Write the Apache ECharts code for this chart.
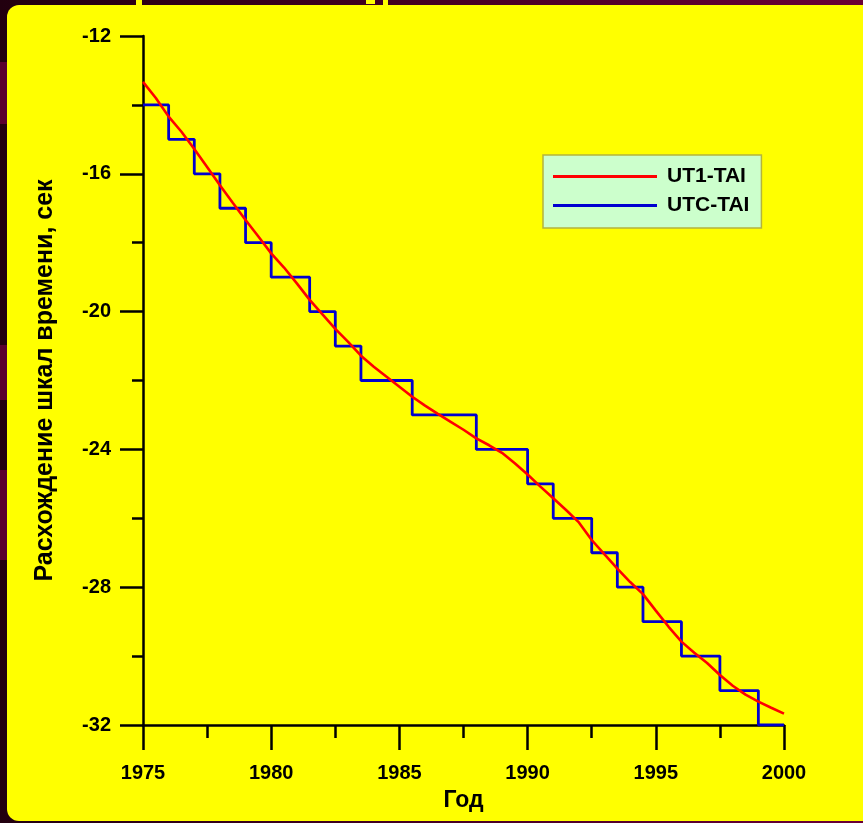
<!DOCTYPE html>
<html>
<head>
<meta charset="utf-8">
<script src="https://cdn.jsdelivr.net/npm/echarts@6/dist/echarts.min.js"></script>
<style>
  html, body { margin: 0; padding: 0; background: #2a0014; }
  #chart { width: 863px; height: 823px; }
</style>
</head>
<body>
<div id="chart"></div>
<script>
// UT1-TAI, seconds, sampled every half year
const ut1Years = [
  1975.0, 1975.5, 1976.0, 1976.5, 1977.0, 1977.5, 1978.0, 1978.5, 1979.0, 1979.5,
  1980.0, 1980.5, 1981.0, 1981.5, 1982.0, 1982.5, 1983.0, 1983.5, 1984.0, 1984.5,
  1985.0, 1985.5, 1986.0, 1986.5, 1987.0, 1987.5, 1988.0, 1988.5, 1989.0, 1989.5,
  1990.0, 1990.5, 1991.0, 1991.5, 1992.0, 1992.5, 1993.0, 1993.5, 1994.0, 1994.5,
  1995.0, 1995.5, 1996.0, 1996.5, 1997.0, 1997.5, 1998.0, 1998.5, 1999.0, 1999.5,
  2000.0
];
const ut1Values = [
  -13.33, -13.80, -14.34, -14.78, -15.28, -15.80, -16.33, -16.84, -17.34, -17.82,
  -18.31, -18.72, -19.18, -19.66, -20.08, -20.50, -20.88, -21.28, -21.60, -21.89,
  -22.18, -22.47, -22.73, -22.97, -23.20, -23.43, -23.68, -23.88, -24.10, -24.40,
  -24.73, -25.08, -25.42, -25.76, -26.12, -26.63, -27.05, -27.46, -27.85, -28.20,
  -28.68, -29.15, -29.58, -29.90, -30.20, -30.55, -30.86, -31.12, -31.32, -31.50,
  -31.67
];

// UTC-TAI: epochs of leap seconds and the offset that holds from each epoch
const utcYears = [
  1975, 1976, 1977, 1978, 1979, 1980, 1981.5, 1982.5, 1983.5, 1985.5,
  1988, 1990, 1991, 1992.5, 1993.5, 1994.5, 1996, 1997.5, 1999, 2000
];
const utcValues = [
  -14, -15, -16, -17, -18, -19, -20, -21, -22, -23,
  -24, -25, -26, -27, -28, -29, -30, -31, -32, -32
];

const seriesNames = ['UT1-TAI', 'UTC-TAI'];
const xTicks = { min: 1975, max: 2000, step: 5 };
const yTicks = { min: -32, max: -12, step: 4 };
const xTitle = 'Год';
const yTitle = 'Расхождение шкал времени, сек';

const FONT = '"Liberation Sans", Arial, sans-serif';

const chart = echarts.init(document.getElementById('chart'), null, { renderer: 'canvas' });

chart.setOption({
  backgroundColor: {
    type: 'linear', x: 0, y: 0, x2: 1, y2: 0,
    colorStops: [
      { offset: 0, color: '#22000f' },
      { offset: 1, color: '#6a0036' }
    ]
  },
  animation: false,
  graphic: [
    // lighter patches on the dark backdrop
    { type: 'rect', silent: true, z: -10, shape: { x: 0, y: 62, width: 12, height: 62 }, style: { fill: '#5a002e' } },
    { type: 'rect', silent: true, z: -10, shape: { x: 0, y: 345, width: 12, height: 55 }, style: { fill: '#5a002e' } },
    { type: 'rect', silent: true, z: -10, shape: { x: 0, y: 470, width: 12, height: 90 }, style: { fill: '#5a002e' } },
    // yellow slide panel
    { type: 'rect', silent: true, z: -5,
      shape: { x: 7, y: 5, width: 880, height: 816, r: 12 },
      style: { fill: '#ffff00' } },
    // lower edges of the heading glyphs above the panel
    { type: 'rect', silent: true, z: -5, shape: { x: 136, y: 0, width: 6, height: 6 }, style: { fill: '#ffff00' } },
    { type: 'rect', silent: true, z: -5, shape: { x: 366, y: 0, width: 9, height: 4 }, style: { fill: '#ffff00' } },
    { type: 'rect', silent: true, z: -5, shape: { x: 383, y: 0, width: 5, height: 6 }, style: { fill: '#ffff00' } }
  ],
  grid: { left: 143, right: 79, top: 36, bottom: 98, containLabel: false },
  legend: {
    orient: 'vertical',
    left: 543, top: 155,
    data: seriesNames,
    icon: 'rect',
    itemWidth: 104, itemHeight: 3,
    itemGap: 8,
    padding: [11, 12, 12, 10],
    backgroundColor: '#ccffcc',
    borderColor: '#b4b43c',
    borderWidth: 1.5,
    textStyle: { fontFamily: FONT, fontWeight: 'bold', fontSize: 21, color: '#000', padding: [0, 0, 0, 5] }
  },
  xAxis: {
    type: 'value',
    min: xTicks.min, max: xTicks.max, interval: xTicks.step,
    name: xTitle, nameLocation: 'middle', nameGap: 64,
    nameTextStyle: { fontFamily: FONT, fontWeight: 'bold', fontSize: 23, color: '#000' },
    axisLine: { show: true, onZero: false, lineStyle: { color: '#000', width: 2.5 } },
    axisTick: { show: true, inside: false, length: 25, lineStyle: { color: '#000', width: 2.5 } },
    minorTick: { show: true, splitNumber: 2, length: 13, lineStyle: { color: '#000', width: 2.5 } },
    axisLabel: {
      margin: 38, fontFamily: FONT, fontWeight: 'bold', fontSize: 20, color: '#000',
      formatter: v => String(v)
    },
    splitLine: { show: false }
  },
  yAxis: {
    type: 'value',
    min: yTicks.min, max: yTicks.max, interval: yTicks.step,
    name: yTitle, nameLocation: 'middle', nameGap: 85, nameRotate: 90,
    nameTextStyle: { fontFamily: FONT, fontWeight: 'bold', fontSize: 25, color: '#000' },
    axisLine: { show: true, onZero: false, lineStyle: { color: '#000', width: 2.5 } },
    axisTick: { show: true, inside: false, length: 23, lineStyle: { color: '#000', width: 2.5 } },
    minorTick: { show: true, splitNumber: 2, length: 11, lineStyle: { color: '#000', width: 2.5 } },
    axisLabel: { margin: 32, fontFamily: FONT, fontWeight: 'bold', fontSize: 20, color: '#000' },
    splitLine: { show: false }
  },
  series: [
    {
      name: seriesNames[0],
      type: 'line',
      data: ut1Years.map((y, i) => [y, ut1Values[i]]),
      showSymbol: false,
      smooth: false,
      z: 4,
      color: '#ff0000',
      lineStyle: { color: '#ff0000', width: 2.6 }
    },
    {
      name: seriesNames[1],
      type: 'line',
      step: 'end',
      data: utcYears.map((y, i) => [y, utcValues[i]]),
      showSymbol: false,
      z: 3,
      color: '#0000d0',
      lineStyle: { color: '#0000d0', width: 2.8 }
    }
  ]
});
</script>
</body>
</html>
